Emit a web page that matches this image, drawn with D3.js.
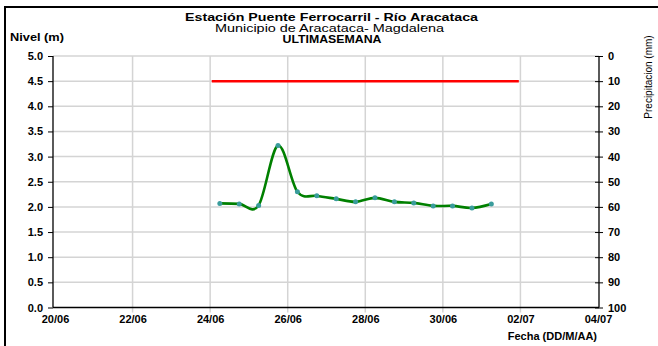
<!DOCTYPE html>
<html><head><meta charset="utf-8">
<script src="https://cdn.jsdelivr.net/npm/d3@7"></script>
<style>body{margin:0;background:#fff}svg{display:block;font-family:"Liberation Sans",Arial,sans-serif}</style>
</head><body><svg id="c" width="658" height="346"></svg>
<script>
// Data
const fechas = ["2024-06-24T06:00","2024-06-24T18:00","2024-06-25T06:00","2024-06-25T18:00","2024-06-26T06:00","2024-06-26T18:00","2024-06-27T06:00","2024-06-27T18:00","2024-06-28T06:00","2024-06-28T18:00","2024-06-29T06:00","2024-06-29T18:00","2024-06-30T06:00","2024-06-30T18:00","2024-07-01T06:00"];
const nivel = [2.07, 2.06, 2.03, 3.22, 2.30, 2.22, 2.16, 2.10, 2.18, 2.10, 2.08, 2.02, 2.02, 1.98, 2.06];
const alertaFechas = ["2024-06-24T01:00","2024-07-01T23:00"];
const alertaNivel = 4.5;
const xTicks = ["2024-06-20","2024-06-22","2024-06-24","2024-06-26","2024-06-28","2024-06-30","2024-07-02","2024-07-04"];
const yTicks = [0,0.5,1,1.5,2,2.5,3,3.5,4,4.5,5];
const precipTicks = [0,10,20,30,40,50,60,70,80,90,100];
const titulo = ["Estación Puente Ferrocarril - Río Aracataca","Municipio de Aracataca- Magdalena","ULTIMASEMANA"];

const parse = s => new Date(s + (s.length === 10 ? "T00:00Z" : "Z"));
const svg = d3.select("#c");
const L = 53, R = 599, T = 56, B = 307.5;
const x = d3.scaleUtc().domain([parse(xTicks[0]), parse(xTicks[xTicks.length-1])]).range([55, 598]);
const y = d3.scaleLinear().domain([0, 5]).range([B, T]);
const yp = d3.scaleLinear().domain([0, 100]).range([T, B]);
const fmt = d3.utcFormat("%d/%m");

svg.append("rect").attr("width",658).attr("height",346).attr("fill","#fff");
// frame
svg.append("path").attr("d","M5,346V7H658").attr("fill","none").attr("stroke","#000").attr("stroke-width",2);

// gridlines
const grid = svg.append("g").attr("stroke","#d4d4d4").attr("stroke-width",1.5);
yTicks.slice(1).forEach(v => grid.append("line").attr("x1",L).attr("x2",R).attr("y1",y(v)).attr("y2",y(v)));
xTicks.slice(1,-1).forEach(t => grid.append("line").attr("x1",x(parse(t))).attr("x2",x(parse(t))).attr("y1",T).attr("y2",B+5));

// left axis
const ya = svg.append("g").attr("transform",`translate(${L},0)`)
  .call(d3.axisLeft(y).tickValues(yTicks).tickFormat(d3.format(".1f")).tickSize(5).tickPadding(5));
// right axis
const yr = svg.append("g").attr("transform",`translate(${R},0)`)
  .call(d3.axisRight(yp).tickValues(precipTicks).tickSize(4).tickPadding(5));
yr.selectAll(".tick line").attr("x1",-4);
// bottom axis
const xa = svg.append("g").attr("transform",`translate(0,${B})`)
  .call(d3.axisBottom(x).tickValues(xTicks.map(parse)).tickFormat(fmt).tickSize(0).tickPadding(8));
[ya, yr, xa].forEach(g => {
  g.selectAll(".domain").attr("stroke","#000").attr("stroke-width",1.3);
  g.selectAll(".tick line").attr("stroke","#000");
  g.selectAll("text").attr("font-family","Liberation Sans, Arial, sans-serif").attr("font-size",11).attr("font-weight","bold").attr("fill","#000");
});
xa.selectAll(".domain").attr("d",`M${L},0H${R}`);
ya.selectAll(".domain").attr("d",`M0,${T}V${B}`);
yr.selectAll(".domain").attr("d",`M0,${T}V${B}`);

// alert line
svg.append("line").attr("x1",x(parse(alertaFechas[0]))).attr("x2",x(parse(alertaFechas[1])))
  .attr("y1",y(alertaNivel)).attr("y2",y(alertaNivel)).attr("stroke","#ff0000").attr("stroke-width",2.5);

// level series
const pts = fechas.map((f,i) => [x(parse(f)), y(nivel[i])]);
svg.append("path").attr("d", d3.line().curve(d3.curveCardinal.tension(0))(pts))
  .attr("fill","none").attr("stroke","#008000").attr("stroke-width",2.6);
svg.selectAll("circle.m").data(pts).enter().append("circle").attr("class","m")
  .attr("cx",d=>d[0]).attr("cy",d=>d[1]).attr("r",2.5).attr("fill","#3a9c9c");

// titles
const tg = svg.append("g").attr("text-anchor","middle").attr("fill","#000");
tg.append("text").attr("x",331.5).attr("y",21).attr("font-size",11).attr("font-weight","bold")
  .attr("textLength",293).attr("lengthAdjust","spacingAndGlyphs").text(titulo[0]);
tg.append("text").attr("x",329.5).attr("y",32).attr("font-size",10)
  .attr("textLength",229).attr("lengthAdjust","spacingAndGlyphs").text(titulo[1]);
tg.append("text").attr("x",332).attr("y",42.5).attr("font-size",10).attr("font-weight","bold")
  .attr("textLength",99).attr("lengthAdjust","spacingAndGlyphs").text(titulo[2]);

svg.append("text").attr("x",10).attr("y",41).attr("font-size",11).attr("font-weight","bold")
  .attr("textLength",54).attr("lengthAdjust","spacingAndGlyphs").text("Nivel (m)");
svg.append("text").attr("x",597).attr("y",340).attr("text-anchor","end").attr("font-size",11).attr("font-weight","bold").text("Fecha (DD/M/AA)");
svg.append("text").attr("transform","translate(652,77) rotate(-90)").attr("text-anchor","middle").attr("font-size",10).text("Precipitacion (mm)");
</script></body></html>
